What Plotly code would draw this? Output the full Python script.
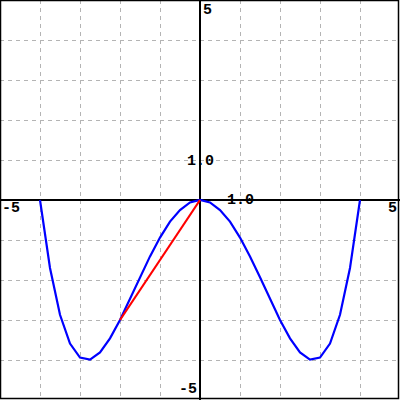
import plotly.graph_objects as go

# Blue curve samples
curve_x = [-4.0, -3.75, -3.5, -3.25, -3.0, -2.75, -2.5, -2.25, -2.0, -1.75, -1.5, -1.25, -1.0,
           -0.75, -0.5, -0.25, 0.0, 0.25, 0.5, 0.75, 1.0, 1.25, 1.5, 1.75, 2.0, 2.25, 2.5,
           2.75, 3.0, 3.25, 3.5, 3.75, 4.0]
curve_y = [0.0, -1.70, -2.87, -3.59, -3.94, -3.99, -3.81, -3.46, -3.0, -2.48, -1.93, -1.41, -0.94,
           -0.54, -0.25, -0.06, 0.0, -0.06, -0.25, -0.54, -0.94, -1.41, -1.93, -2.48, -3.0, -3.46,
           -3.81, -3.99, -3.94, -3.59, -2.87, -1.70, 0.0]

# Red secant segment
secant_x = [-2.0, 0.0]
secant_y = [-3.0, 0.0]

# Axis labels
label_text = ["-5", "5", "5", "-5", "1.0", "1.0"]
label_x = [-5, 5, 0, 0, 1, 0]
label_y = [0, 0, 5, -5, 0, 1]
label_xanchor = ["left", "right", "left", "right", "center", "center"]
label_yanchor = ["middle", "middle", "top", "bottom", "middle", "middle"]
label_yshift = [-8, -8, 0, 0, 0, -1]
label_xshift = [0, -1, 1, -1, 0, 0]

font = dict(family="Liberation Mono, Courier New, monospace", size=15, color="black")

fig = go.Figure()
fig.add_trace(go.Scatter(x=curve_x, y=curve_y, mode="lines",
                         line=dict(color="#0000ff", width=2.2), hoverinfo="skip"))
fig.add_trace(go.Scatter(x=secant_x, y=secant_y, mode="lines",
                         line=dict(color="#ff0000", width=2.2), hoverinfo="skip"))

for t, x, y, xa, ya, ys, xs in zip(label_text, label_x, label_y, label_xanchor,
                                   label_yanchor, label_yshift, label_xshift):
    fig.add_annotation(x=x, y=y, text="<b>%s</b>" % t, showarrow=False, xanchor=xa,
                       yanchor=ya, yshift=ys, xshift=xs, font=font)

axis_common = dict(range=[-5, 5], dtick=1, tick0=0, showgrid=True, gridcolor="#b4b4b4",
                   griddash="4px,4px", gridwidth=1, zeroline=True, zerolinecolor="black",
                   zerolinewidth=1.5, showticklabels=False, ticks="", fixedrange=True)

fig.update_layout(
    width=400, height=400,
    margin=dict(l=0, r=0, t=0, b=0),
    paper_bgcolor="white", plot_bgcolor="white",
    showlegend=False,
    xaxis=axis_common,
    yaxis=axis_common,
)
fig.add_shape(type="rect", xref="paper", yref="paper", x0=0.00125, y0=0.00375, x1=0.99625, y1=0.99875,
              line=dict(color="black", width=1.5))

fig.write_html("out.html", config={"displayModeBar": False},
               post_script="document.body.style.margin='0';document.body.style.overflow='hidden';")
